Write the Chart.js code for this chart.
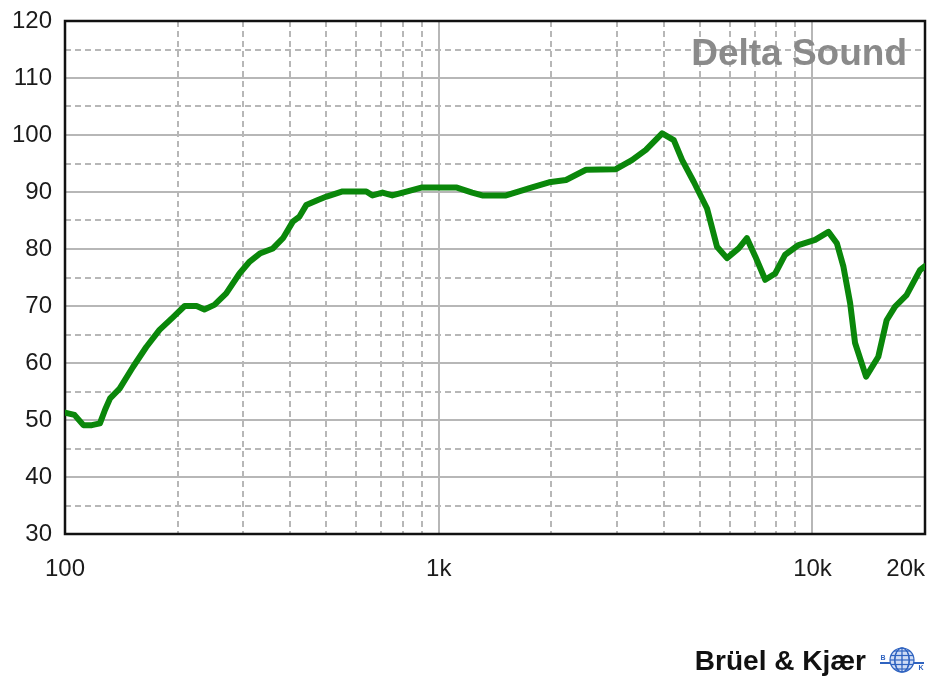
<!DOCTYPE html>
<html>
<head>
<meta charset="utf-8">
<script src="https://cdn.jsdelivr.net/npm/chart.js@4.4.1/dist/chart.umd.min.js"></script>
<style>
  html, body { margin: 0; padding: 0; background: #fff; }
  #wrap { width: 931px; height: 677px; position: relative; }
</style>
</head>
<body>
<div id="wrap"><canvas id="fr" width="931" height="677"></canvas></div>
<script>
// Datos (Hz / dB)
const freqs = [100, 106, 112, 118, 124, 128, 132, 140, 152, 165, 179, 195, 209, 225, 236, 251, 270, 293,
  312, 332, 360, 383, 407, 424, 442, 475, 501, 553, 640, 665, 707, 751, 834, 903, 1000, 1113, 1229, 1307,
  1514, 1777, 1973, 2190, 2477, 2979, 3287, 3583, 3960, 4255, 4480, 4810, 5222, 5553, 5905, 6345, 6677,
  7030, 7474, 7948, 8450, 9175, 10160, 11030, 11620, 12100, 12610, 13000, 13910, 15000, 15790, 16630,
  17850, 19390, 20000];
const spl = [51.3, 50.9, 49.1, 49.1, 49.4, 51.8, 53.8, 55.5, 59.3, 62.8, 65.8, 68.1, 70.0, 70.0, 69.4, 70.2, 72.2, 75.7,
  77.8, 79.2, 80.1, 81.9, 84.8, 85.7, 87.7, 88.6, 89.2, 90.1, 90.1, 89.4, 89.9, 89.4, 90.2, 90.8, 90.8, 90.8, 89.9, 89.4,
  89.4, 90.8, 91.7, 92.1, 93.9, 94.0, 95.6, 97.4, 100.3, 99.1, 95.6, 91.8, 87.1, 80.4, 78.4, 80.1, 81.9,
  78.7, 74.6, 75.7, 79.0, 80.7, 81.6, 83.0, 81.0, 76.9, 70.5, 63.5, 57.6, 61.1, 67.5, 69.9,
  71.9, 76.3, 77.0];

// Ejes
const xGridValues = [100, 200, 300, 400, 500, 600, 700, 800, 900, 1000, 2000, 3000, 4000, 5000, 6000,
  7000, 8000, 9000, 10000, 20000];
const xMajor = [100, 1000, 10000, 20000];
const xLabels = ['100', '1k', '10k', '20k'];
const yMin = 30, yMax = 120;

const FONT = 'Arial, "Liberation Sans", sans-serif';
const GRID = '#b7b7b7';

// Marco, textos y logo
const decorPlugin = {
  id: 'decor',
  beforeDatasetsDraw(chart) {
    const { ctx, chartArea: a } = chart;
    ctx.save();
    ctx.strokeStyle = '#111';
    ctx.lineWidth = 2.5;
    ctx.strokeRect(a.left, a.top, a.right - a.left, a.bottom - a.top);
    // marca de agua
    ctx.fillStyle = '#8a8a8a';
    ctx.font = 'bold 37px ' + FONT;
    ctx.textAlign = 'right';
    ctx.textBaseline = 'alphabetic';
    ctx.fillText('Delta Sound', 907, 65);
    ctx.restore();
  },
  afterDraw(chart) {
    const { ctx, chartArea: a } = chart;
    const xs = chart.scales.x;
    ctx.save();
    // etiquetas del eje X
    ctx.fillStyle = '#1b1b1b';
    ctx.font = '24px ' + FONT;
    ctx.textBaseline = 'middle';
    xMajor.forEach((v, i) => {
      const px = xs.getPixelForValue(v);
      ctx.textAlign = i === xMajor.length - 1 ? 'right' : 'center';
      ctx.fillText(xLabels[i], px, a.bottom + 35);
    });
    // logo
    ctx.fillStyle = '#111';
    ctx.font = 'bold 28px ' + FONT;
    ctx.textAlign = 'right';
    ctx.textBaseline = 'alphabetic';
    ctx.fillText('Brüel & Kjær', 866, 670);
    const cx = 902, cy = 660, r = 12;
    ctx.strokeStyle = '#2f63c0';
    ctx.lineWidth = 1.2;
    ctx.fillStyle = '#cfdcf5';
    ctx.beginPath(); ctx.arc(cx, cy, r, 0, Math.PI * 2); ctx.fill(); ctx.stroke();
    for (let k = -2; k <= 2; k++) {
      const yy = cy + k * 4.5;
      const hw = Math.sqrt(Math.max(r * r - (k * 4.5) * (k * 4.5), 0));
      ctx.beginPath(); ctx.moveTo(cx - hw, yy); ctx.lineTo(cx + hw, yy); ctx.stroke();
    }
    [-0.6, 0, 0.6].forEach(s => {
      ctx.beginPath(); ctx.ellipse(cx, cy, Math.abs(s) * r + 0.1, r, 0, 0, Math.PI * 2); ctx.stroke();
    });
    ctx.lineWidth = 2;
    ctx.beginPath();
    ctx.moveTo(cx - 22, cy + 3); ctx.lineTo(cx - r, cy + 3);
    ctx.moveTo(cx + r, cy + 3); ctx.lineTo(cx + 22, cy + 3);
    ctx.stroke();
    ctx.fillStyle = '#2f63c0';
    ctx.font = 'bold 7px ' + FONT;
    ctx.textAlign = 'center';
    ctx.fillText('B', cx - 19, cy);
    ctx.fillText('K', cx + 19, cy + 10);
    ctx.restore();
  }
};

const isDecade = v => Math.abs(Math.log10(v) - Math.round(Math.log10(v))) < 1e-6;

new Chart(document.getElementById('fr'), {
  type: 'line',
  data: {
    datasets: [{
      data: freqs.map((f, i) => ({ x: f, y: spl[i] })),
      borderColor: '#0a870a',
      borderWidth: 6,
      pointRadius: 0,
      tension: 0,
      borderJoinStyle: 'round',
      borderCapStyle: 'round',
      fill: false
    }]
  },
  options: {
    responsive: false,
    animation: false,
    devicePixelRatio: 1,
    layout: { padding: { top: 21, right: 6, left: 0, bottom: 0 } },
    plugins: { legend: { display: false }, tooltip: { enabled: false } },
    scales: {
      x: {
        type: 'logarithmic',
        min: 100,
        max: 20000,
        afterBuildTicks: (scale) => { scale.ticks = xGridValues.map(v => ({ value: v })); },
        afterFit: (scale) => { scale.height = 143; scale.paddingLeft = 0; scale.paddingRight = 0; },
        ticks: { display: false, autoSkip: false },
        border: {
          display: false,
          dash: (c) => (c.tick && isDecade(c.tick.value)) ? [] : [6, 4]
        },
        grid: {
          drawTicks: false,
          color: GRID,
          lineWidth: 2
        }
      },
      y: {
        min: yMin,
        max: yMax,
        afterFit: (scale) => { scale.width = 65; scale.paddingTop = 0; scale.paddingBottom = 0; },
        ticks: {
          stepSize: 5,
          autoSkip: false,
          padding: 13,
          color: '#1b1b1b',
          font: { family: FONT, size: 24 },
          callback: (v) => (v % 10 === 0 ? String(v) : '')
        },
        border: {
          display: false,
          dash: (c) => (c.tick && c.tick.value % 10 === 0) ? [] : [6, 4]
        },
        grid: {
          drawTicks: false,
          color: GRID,
          lineWidth: 2
        }
      }
    }
  },
  plugins: [decorPlugin]
});
</script>
</body>
</html>
